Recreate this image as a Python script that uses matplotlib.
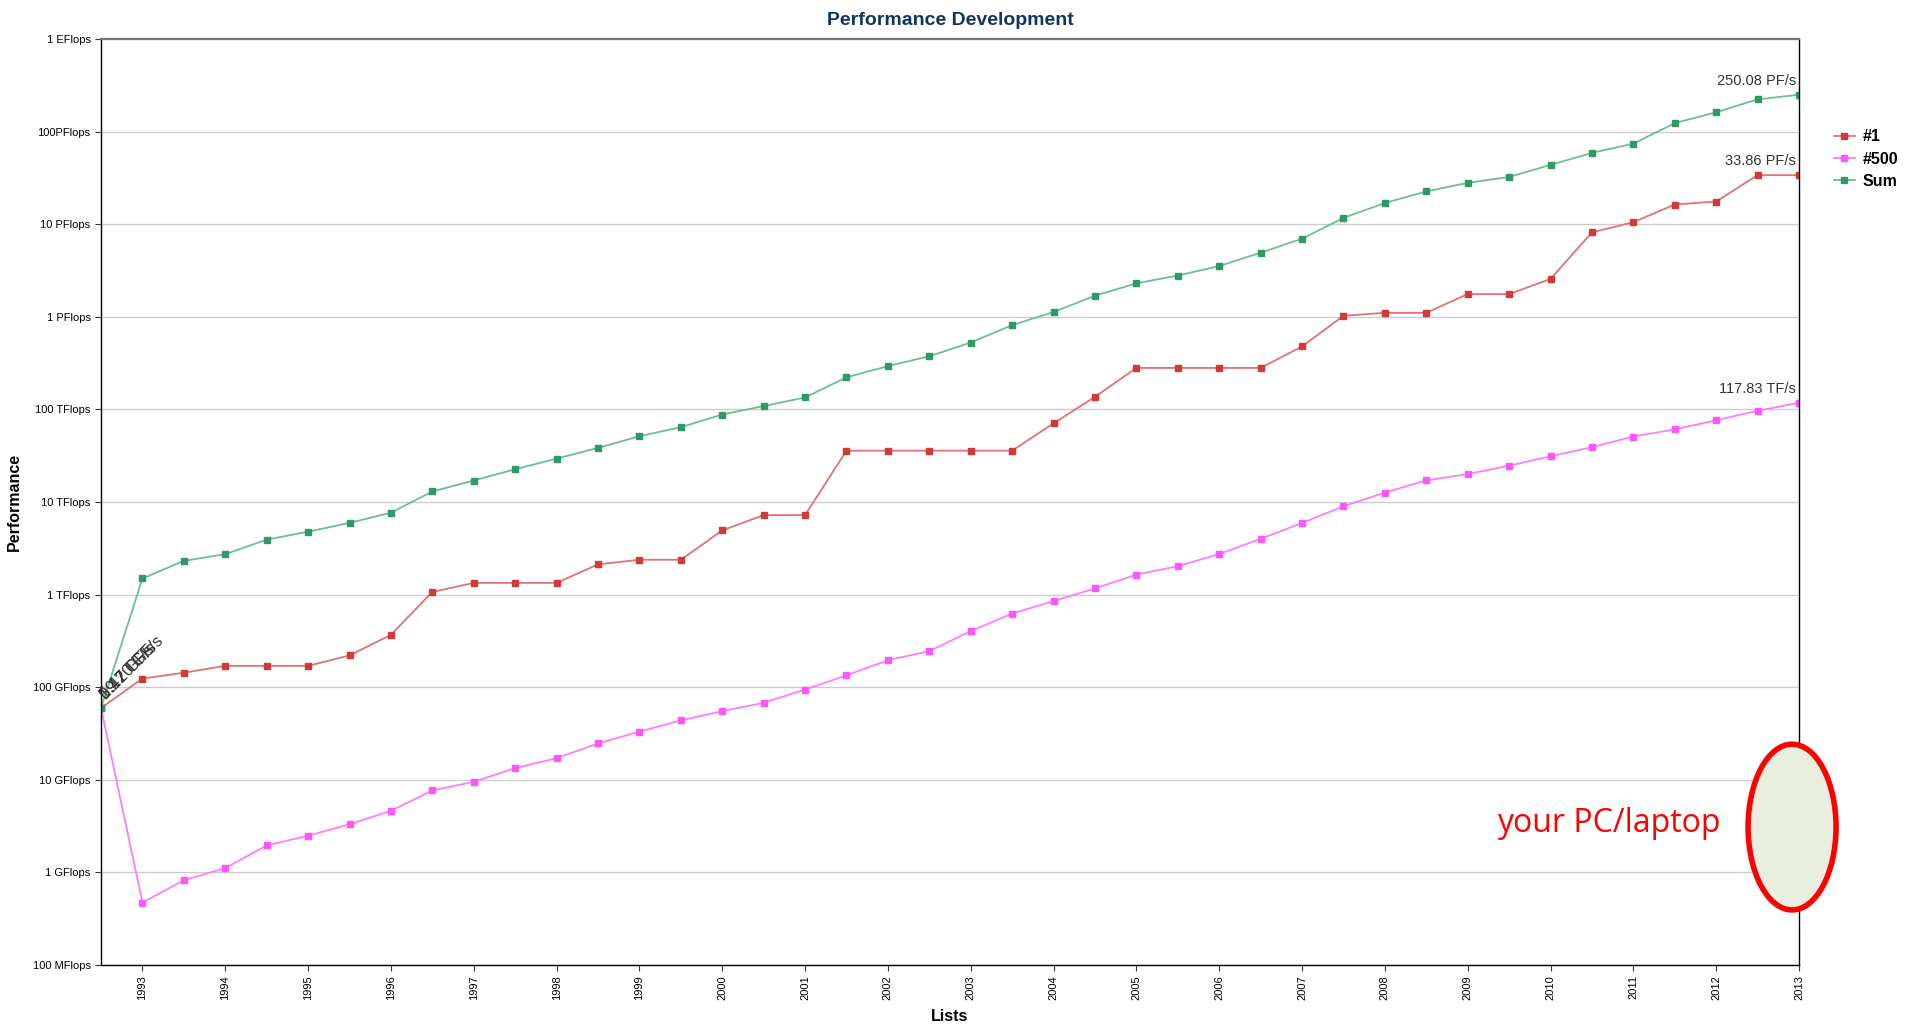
import matplotlib
matplotlib.use("Agg")
import matplotlib.pyplot as plt
from matplotlib.patches import Ellipse
import numpy as np

plt.rcParams['font.family'] = ['Liberation Sans', 'DejaVu Sans']

# TOP500 lists, June 1993 .. Nov 2013 (values in GFlops)
n_lists = 42
year_labels = [str(y) for y in range(1993, 2014)]

top1 = [59.7, 124.0, 143.4, 170.0, 170.0, 170.0, 220.4, 368.2, 1068, 1338,
        1338, 1338, 2121, 2379, 2379, 4938, 7226, 7226, 35860, 35860,
        35860, 35860, 35860, 70720, 136800, 280600, 280600, 280600, 280600, 478200,
        1026000, 1105000, 1105000, 1759000, 1759000, 2566000, 8162000, 10510000, 16324750, 17590000,
        33862700, 33862700]

top500 = [59.7, 0.472, 0.822, 1.114, 1.955, 2.489, 3.306, 4.619, 7.670, 9.513,
          13.39, 17.12, 24.73, 33.11, 43.82, 55.09, 67.78, 94.30, 134.3, 195.8,
          245.1, 403.4, 624.0, 850.6, 1166, 1646, 2026, 2737, 4005, 5929,
          9000, 12640, 17090, 20050, 24670, 31120, 39100, 50940, 60820, 76410,
          96620, 117830]

total = [59.7, 1493, 2317, 2732, 3927, 4780, 5950, 7670, 12990, 17060,
         22600, 29400, 38400, 51300, 64300, 88000, 108600, 134700, 222000, 293600,
         375200, 527500, 813100, 1127000, 1690000, 2300000, 2790000, 3530000, 4920000, 6970000,
         11700000, 16950000, 22600000, 27950000, 32400000, 43700000, 58900000, 74200000, 123400000, 162000000,
         223000000, 250080000]

y_ticks = [0.1, 1, 10, 100, 1e3, 1e4, 1e5, 1e6, 1e7, 1e8, 1e9]
y_labels = ["100 MFlops", "1 GFlops", "10 GFlops", "100 GFlops", "1 TFlops", "10 TFlops",
            "100 TFlops", "1 PFlops", "10 PFlops", "100PFlops", "1 EFlops"]

series = [("#1", top1, "#e07272", "#d23a3a"),
          ("#500", top500, "#ff7bff", "#ff55ff"),
          ("Sum", total, "#6cbf95", "#2e9a65")]

x = np.arange(n_lists)

fig = plt.figure(figsize=(19.10, 10.24), dpi=100)
ax = fig.add_axes([0.0529, 0.0576, 0.889, 0.9043])

for name, vals, lc, mc in series:
    ax.plot(x, vals, color=lc, lw=1.3, marker="s", markersize=4.5,
            markerfacecolor=mc, markeredgecolor=mc, label=name)

ax.set_yscale("log")
ax.set_ylim(0.1, 1e9)
ax.set_xlim(0, n_lists - 1)
ax.set_yticks(y_ticks)
ax.set_yticklabels(y_labels, fontsize=8)
ax.minorticks_off()
ax.set_xticks(x[1::2])
ax.set_xticklabels(year_labels, rotation=90, fontsize=8)
ax.tick_params(length=4, width=0.8, color="#333333")
ax.yaxis.grid(True, color="#cccccc", lw=1)
ax.set_axisbelow(True)
for s in ["left", "bottom", "right"]:
    ax.spines[s].set_color("black")
    ax.spines[s].set_linewidth(1.0)
ax.spines["top"].set_color("#777777")
ax.spines["top"].set_linewidth(1.6)

ax.set_title("Performance Development", fontsize=14, fontweight="bold",
             color="#12355f", pad=10)
ax.set_ylabel("Performance", fontsize=11.5, fontweight="bold", labelpad=8)
ax.set_xlabel("Lists", fontsize=11.5, fontweight="bold", labelpad=6)

# end labels
end_labels = ["33.86 PF/s", "117.83 TF/s", "250.08 PF/s"]
for (name, vals, lc, mc), lab in zip(series, end_labels):
    ax.annotate(lab, (x[-1], vals[-1]), xytext=(-2, 5), textcoords="offset points",
                ha="right", va="bottom", fontsize=10.5, color="#333333")

# overlapping start labels
start_labels = ["59.70 GF/s", "0.42 GF/s", "1.17 TF/s"]
for lab in start_labels:
    ax.annotate(lab, (x[0], top1[0]), xytext=(5, 4), textcoords="offset points",
                ha="left", va="bottom", fontsize=12, color="#333333",
                rotation=45, rotation_mode="anchor")

leg = ax.legend(loc="upper left", bbox_to_anchor=(1.012, 0.918), frameon=False,
                handlelength=1.3, handletextpad=0.5, labelspacing=0.45,
                prop={"weight": "bold", "size": 11.5})

# "your PC/laptop" highlight
ell = Ellipse((0.9959, 0.149), 0.0518, 0.179, transform=ax.transAxes,
              facecolor="#eaeedf", edgecolor="#ff0000", lw=4, clip_on=False, zorder=5)
ax.add_patch(ell)
ax.text(0.9535, 0.153, "your PC/laptop", transform=ax.transAxes, ha="right",
        va="center", fontsize=23, color="#ff0000", family=["Open Sans", "DejaVu Sans"])

fig.savefig("out.png", dpi=100)
